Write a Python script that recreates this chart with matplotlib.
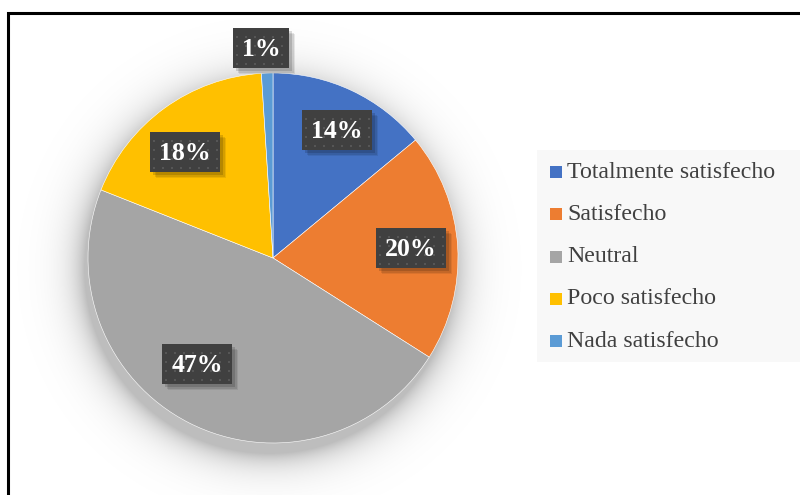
import numpy as np
import matplotlib
matplotlib.use("Agg")
import matplotlib.pyplot as plt
from matplotlib.patches import Rectangle

categorias = ["Totalmente satisfecho", "Satisfecho", "Neutral", "Poco satisfecho", "Nada satisfecho"]
porcentajes = [14, 20, 47, 18, 1]
colores = ["#4472C4", "#ED7D31", "#A5A5A5", "#FFC000", "#5B9BD5"]
etiquetas = ["14%", "20%", "47%", "18%", "1%"]

W, H = 800, 495
fig = plt.figure(figsize=(W / 100, H / 100), dpi=100)
ax = fig.add_axes([0, 0, 1, 1])

cx, cy, r = 273, H - 258, 185

# sombra difusa del pastel
yy, xx = np.mgrid[0:H, 0:W]
d = np.hypot(xx - (cx - 4), (H - yy) - (cy - 10)) - r
alpha = np.exp(-np.clip(d, 0, None) / 16.0) * 0.26
alpha[d < -30] = 0
sombra = np.zeros((H, W, 4))
sombra[..., 3] = alpha
ax.imshow(sombra, extent=(0, W, 0, H), zorder=1)

ax.pie(porcentajes, colors=colores, startangle=90, counterclock=False,
       center=(cx, cy), radius=r, frame=True,
       wedgeprops=dict(linewidth=0.4, edgecolor="white", zorder=2))
ax.set_xlim(0, W)
ax.set_ylim(0, H)
ax.set_aspect("equal")
ax.axis("off")

# etiquetas de porcentaje con caja oscura
pos = [(337, 130), (411, 248), (197, 364), (185, 152), (261, 48)]
for (px, py), txt in zip(pos, etiquetas):
    w = 70 if len(txt) == 3 else 56
    h = 40
    x0, y0 = px - w / 2, H - py - h / 2
    for k, a in enumerate([0.08, 0.10, 0.14]):
        off = 6 - k * 1.5
        ax.add_patch(Rectangle((x0 + off, y0 - off), w, h, color="black",
                               alpha=a, lw=0, zorder=3))
    ax.add_patch(Rectangle((x0, y0), w, h, color="#404040", lw=0, zorder=4))
    gx = np.arange(x0 + 4, x0 + w - 1, 9)
    gy = np.arange(y0 + 4, y0 + h - 1, 9)
    GX, GY = np.meshgrid(gx, gy)
    ax.scatter(GX.ravel(), GY.ravel(), s=2.5, marker="s", color="#565656",
               lw=0, zorder=5)
    ax.text(px, H - py - 1, txt, ha="center", va="center", color="white",
            fontsize=18.5, fontweight="bold", family="Liberation Serif", zorder=6)

# leyenda
ax.add_patch(Rectangle((537, H - 362), 270, 212, color="#f8f8f8", lw=0, zorder=1))
for i, (cat, col) in enumerate(zip(categorias, colores)):
    ly = H - (172 + i * 42.3)
    ax.add_patch(Rectangle((550, ly - 6), 12, 12, color=col, lw=0, zorder=3))
    ax.text(567, ly, cat, ha="left", va="center", color="#404040",
            fontsize=17.2, family="Liberation Serif", zorder=3)

# marco
ax.plot([8, 8, W], [0, H - 13, H - 13], color="black", lw=2.2,
        solid_joinstyle="miter", zorder=7)

fig.savefig("out.png", dpi=100)
